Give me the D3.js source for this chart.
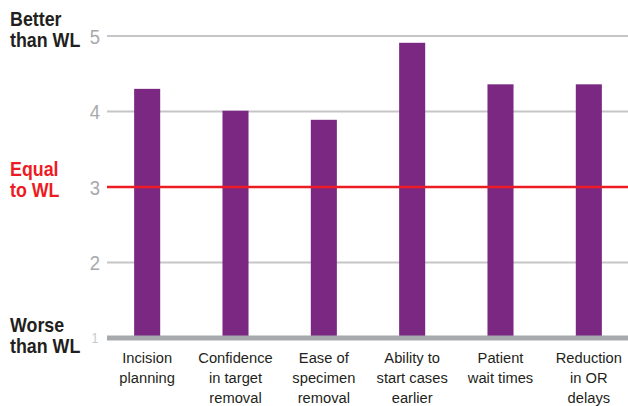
<!DOCTYPE html>
<html>
<head>
<meta charset="utf-8">
<title>Compared with WL</title>
<script src="https://cdn.jsdelivr.net/npm/d3@7"></script>
<style>
  body { margin: 0; background: #fff; }
  svg { display: block; font-family: "Liberation Sans", Arial, sans-serif; }
</style>
</head>
<body>
<div id="container"></div>
<script>
  // Data.
  const categories = [
    ["Incision", "planning"],
    ["Confidence", "in target", "removal"],
    ["Ease of", "specimen", "removal"],
    ["Ability to", "start cases", "earlier"],
    ["Patient", "wait times"],
    ["Reduction", "in OR", "delays"]
  ];
  const scores = [4.3, 4.01, 3.89, 4.91, 4.36, 4.36];
  const yTicks = [1, 2, 3, 4, 5];
  const sideLabels = [
    { value: 5, lines: ["Better", "than WL"], color: "#231f20", shift: -10 },
    { value: 3, lines: ["Equal", "to WL"], color: "#ed1c24", shift: -11 },
    { value: 1, lines: ["Worse", "than WL"], color: "#231f20", shift: -6 }
  ];

  const width = 628;
  const height = 406;
  const marginLeft = 103;
  const marginRight = -5;
  const yTop = 36;
  const yBottom = 338;

  const x = d3.scaleBand()
      .domain(d3.range(categories.length))
      .range([marginLeft, width - marginRight])
      .paddingInner(0.705)
      .paddingOuter(0.3525);

  const y = d3.scaleLinear()
      .domain([1, 5])
      .range([yBottom, yTop]);

  const svg = d3.create("svg")
      .attr("width", width)
      .attr("height", height);

  // Gridlines.
  svg.append("g")
    .selectAll("line")
    .data(yTicks.filter(d => d !== 1 && d !== 3))
    .join("line")
      .attr("x1", 107)
      .attr("x2", width)
      .attr("y1", d => y(d))
      .attr("y2", d => y(d))
      .attr("stroke", "#c6c6c8")
      .attr("stroke-width", 2);

  // Tick numbers (condensed look via horizontal squeeze).
  svg.append("g")
    .selectAll("text")
    .data(yTicks)
    .join("text")
      .attr("transform", d => `translate(95,${y(d)}) scale(0.88,1)`)
      .attr("dy", "0.36em")
      .attr("text-anchor", "middle")
      .attr("fill", d => d === 1 ? "#c8c8ca" : "#a7a9ac")
      .attr("font-size", d => d === 1 ? 14 : 21)
      .text(d => d);

  // Bars.
  svg.append("g")
    .selectAll("rect")
    .data(scores)
    .join("rect")
      .attr("x", (d, i) => x(i))
      .attr("y", d => y(d))
      .attr("width", x.bandwidth())
      .attr("height", d => y(1) - y(d))
      .attr("fill", "#7b2883");

  // Baseline.
  svg.append("line")
      .attr("x1", 107)
      .attr("x2", width)
      .attr("y1", y(1))
      .attr("y2", y(1))
      .attr("stroke", "#a7a9ac")
      .attr("stroke-width", 5);

  // Equal line.
  svg.append("line")
      .attr("x1", 107)
      .attr("x2", width)
      .attr("y1", y(3))
      .attr("y2", y(3))
      .attr("stroke", "#ed1c24")
      .attr("stroke-width", 2.5);

  // Category labels.
  svg.append("g")
    .selectAll("text")
    .data(categories)
    .join("text")
      .attr("text-anchor", "middle")
      .attr("font-size", 15.5)
      .attr("fill", "#231f20")
      .attr("transform", (d, i) => `translate(${x(i) + x.bandwidth() / 2},363) scale(0.95,1)`)
    .selectAll("tspan")
    .data(d => d)
    .join("tspan")
      .attr("x", 0)
      .attr("y", (d, i) => i * 20)
      .text(d => d);

  // Left side labels.
  svg.append("g")
    .selectAll("text")
    .data(sideLabels)
    .join("text")
      .attr("font-size", 21)
      .attr("font-weight", "bold")
      .attr("fill", d => d.color)
      .attr("transform", d => `translate(10,${y(d.value) + d.shift}) scale(0.85,1)`)
    .selectAll("tspan")
    .data(d => d.lines)
    .join("tspan")
      .attr("x", 0)
      .attr("y", (d, i) => i * 21)
      .text(d => d);

  document.getElementById("container").append(svg.node());
</script>
</body>
</html>
